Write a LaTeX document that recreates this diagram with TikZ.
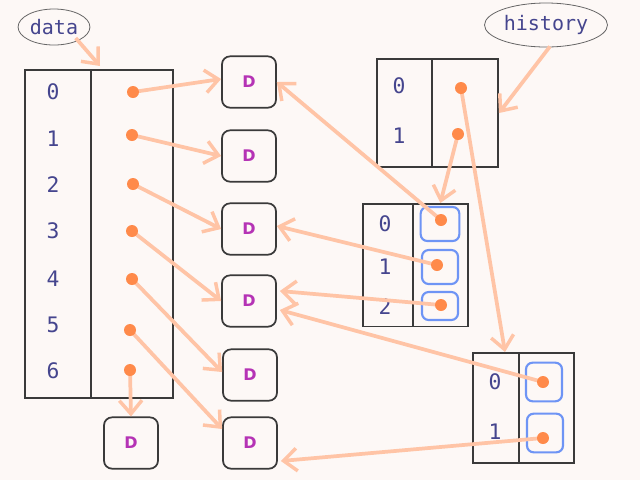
\documentclass[tikz,border=0pt]{standalone}
\usepackage{fontspec}
\setmonofont{DejaVu Sans Mono}
\newfontfamily\dfont{DejaVu Sans}
\usetikzlibrary{arrows.meta,calc,shapes.geometric}
\definecolor{bgc}{HTML}{FDF8F6}
\definecolor{peach}{HTML}{FFC4A6}
\definecolor{dotc}{HTML}{FF8A4A}
\definecolor{txt}{HTML}{45458E}
\definecolor{mag}{HTML}{B533B5}
\definecolor{bluec}{HTML}{6E94F5}
\definecolor{bord}{HTML}{3A3A3A}
\begin{document}
\begin{tikzpicture}[x=0.75pt,y=-0.75pt,
  cell/.style={draw=bord,line width=1.3pt,inner sep=0pt,anchor=north west},
  lbl/.style={text=txt,font=\ttfamily\fontsize{16}{18}\selectfont},
  dbox/.style={draw=bord,line width=1.3pt,rounded corners=6pt,minimum width=40.5pt,minimum height=38.5pt,text=mag,font=\dfont\bfseries\fontsize{12}{13}\selectfont},
  bbox/.style={draw=bluec,line width=1.6pt,rounded corners=5pt,inner sep=0pt},
  ptr/.style={draw=peach,line width=2.8pt,-{Straight Barb[length=10pt,width=17pt,line width=2.6pt]}},
  dot/.style={circle,fill=dotc,inner sep=0pt,minimum size=9pt},
  tag/.style={ellipse,draw=black!60,line width=0.6pt,text=txt,font=\ttfamily\fontsize{15}{17}\selectfont,inner sep=1pt}]
\fill[bgc] (0,0) rectangle (640,480);
\useasboundingbox (0,0) rectangle (640,480);

% big data table
\node[cell,minimum width=49.5pt,minimum height=246pt] (dL) at (24,69) {};
\node[cell,minimum width=61.5pt,minimum height=246pt] (dR) at (90,69) {};
\foreach \i/\y in {0/92,1/139,2/185,3/231,4/279,5/325,6/371}
  \node[lbl] (dl\i) at (53,\y) {\i};

% D boxes
\node[dbox] (D0) at (249,82) {D};
\node[dbox] (D1) at (249,156) {D};
\node[dbox] (D2) at (249,229) {D};
\node[dbox] (D3) at (249,301) {D};
\node[dbox] (D4) at (250,375) {D};
\node[dbox] (D5) at (250,443) {D};
\node[dbox] (D6) at (131,443) {D};

% history table
\node[cell,minimum width=41.25pt,minimum height=81pt] (hL) at (376,58) {};
\node[cell,minimum width=49.5pt,minimum height=81pt] (hR) at (431,58) {};
\node[lbl] (hl0) at (399,86) {0};
\node[lbl] (hl1) at (399,136) {1};

% middle table
\node[cell,minimum width=37.5pt,minimum height=92pt] (mL) at (362,203) {};
\node[cell,minimum width=41.25pt,minimum height=92pt] (mR) at (412,203) {};
\node[lbl] (ml0) at (385,224) {0};
\node[lbl] (ml1) at (385,267) {1};
\node[lbl] (ml2) at (385,307) {2};
\node[bbox,minimum width=29pt,minimum height=25.5pt] (mb0) at (440,224) {};
\node[bbox,minimum width=27pt,minimum height=25.5pt] (mb1) at (440,267) {};
\node[bbox,minimum width=27pt,minimum height=21pt] (mb2) at (440,306) {};

% bottom-right table
\node[cell,minimum width=34.5pt,minimum height=82.5pt] (bL) at (472,352) {};
\node[cell,minimum width=41.25pt,minimum height=82.5pt] (bR) at (518,352) {};
\node[lbl] (bl0) at (495,382) {0};
\node[lbl] (bl1) at (495,432) {1};
\node[bbox,minimum width=27pt,minimum height=29pt] (bb0) at (544,382) {};
\node[bbox,minimum width=27pt,minimum height=29pt] (bb1) at (545,433) {};

% tags
\node[tag,minimum width=48pt,minimum height=27pt] (data) at (54,27) {data};
\node[tag,minimum width=85pt,minimum height=33pt] (hist) at (546,25) {history};

% pointer origins
\coordinate (p0) at (133,92);
\coordinate (p1) at (132,135);
\coordinate (p2) at (133,184);
\coordinate (p3) at (132,231);
\coordinate (p4) at (132,279);
\coordinate (p5) at (130,330);
\coordinate (p6) at (130,370);
\coordinate (h0) at (461,88);
\coordinate (h1) at (458,134);
\coordinate (m0) at (441,220);
\coordinate (m1) at (437,265);
\coordinate (m2) at (441,305);
\coordinate (b0) at (543,382);
\coordinate (b1) at (543,438);
\coordinate (dtgt) at (100,66);
\coordinate (htgt) at (499,113);
\coordinate (btop) at (505,352);

% pointers
\draw[ptr] (data.south east) ++(-4,-2) coordinate (ds) -- (dtgt);
\draw[ptr] (hist.south) ++(4,-1) coordinate (hs) -- (htgt);
\draw[ptr] (p0) -- ($(D0.west)+(0,-3)$);
\draw[ptr] (p1) -- (D1.west);
\draw[ptr] (p2) -- (D2.west);
\draw[ptr] (p3) -- (D3.west);
\draw[ptr] (p4) -- ($(D4.west)+(0,-3)$);
\draw[ptr] (p5) -- ($(D5.west)+(0,-14)$);
\draw[ptr] (p6) -- (D6.north);
\draw[ptr] (h0) -- (btop);
\draw[ptr] (h1) -- (mR.north);
\draw[ptr] (m0) -- (D0.east);
\draw[ptr] (m1) -- ($(D2.east)+(0,-3)$);
\draw[ptr] (m2) -- ($(D3.east)+(3,-10)$);
\draw[ptr] (b0) -- ($(D3.east)+(3,9)$);
\draw[ptr] (b1) -- ($(D5.east)+(3,18)$);

% dots
\foreach \c in {p0,p1,p2,p3,p4,p5,p6,h0,h1,m0,m1,m2,b0,b1}
  \node[dot] (d\c) at (\c) {};
\end{tikzpicture}
\end{document}
